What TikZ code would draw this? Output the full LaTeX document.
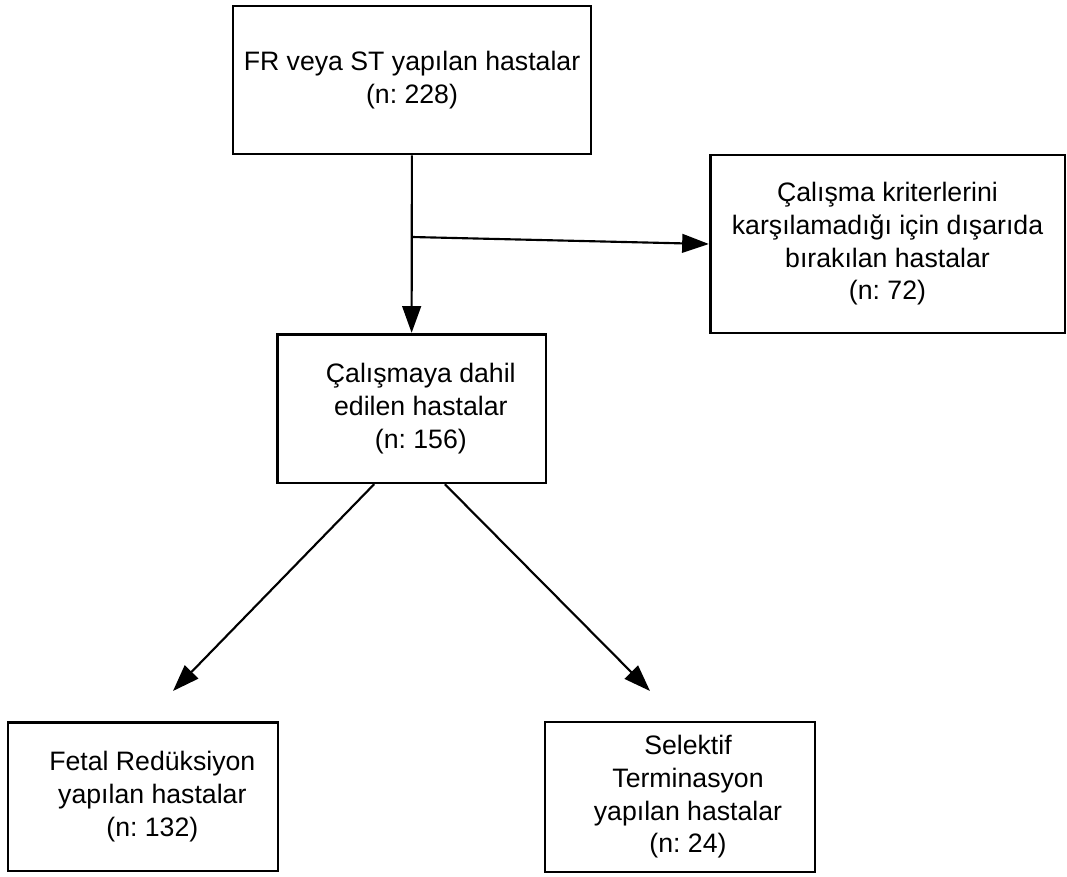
\documentclass[tikz,border=0pt]{standalone}
\usepackage{fontspec}
\setmainfont{Liberation Sans}
\usetikzlibrary{arrows.meta}
\usetikzlibrary{positioning}
\frenchspacing

\begin{document}
\begin{tikzpicture}[
            x=0.75pt, y=-0.75pt,
            block/.style={rectangle, draw, line width=2pt, align=center, inner sep=0pt,
                font=\fontsize{20}{24.5}\selectfont},
            arr/.style={-{Triangle[length=20pt,width=14pt]}, line width=1.6pt}
        ]
            \useasboundingbox (0,0) rectangle (1067,877);

            % boxes
            \node[block, minimum width=268.5pt, minimum height=111pt] (all) at (412,80) {FR veya ST yapılan hastalar\\(n: 228)};
            \node[block, minimum width=266pt, minimum height=133.5pt] (excl) at (887.5,244) {Çalışma kriterlerini\\karşılamadığı için dışarıda\\bırakılan hastalar\\(n: 72)};
            \node[block, minimum width=201.5pt, minimum height=111.5pt] (incl) at (411.5,408.5) {\hspace*{14pt}Çalışmaya dahil\\\hspace*{14pt}edilen hastalar\\\hspace*{14pt}(n: 156)};
            \node[block, minimum width=202.5pt, minimum height=111.5pt] (fr) at (143,796.5) {\hspace*{14pt}Fetal Redüksiyon\\\hspace*{14pt}yapılan hastalar\\\hspace*{14pt}(n: 132)};
            \node[block, minimum width=202.5pt, minimum height=112.5pt] (st) at (680,797) {\hspace*{12pt}Selektif\\\hspace*{12pt}Terminasyon\\\hspace*{12pt}yapılan hastalar\\\hspace*{12pt}(n: 24)};

            % free ends
            \coordinate (split) at (412,237);
            \coordinate (tipL) at (173,691);
            \coordinate (tipR) at (650,691);

            % arrows
            \draw[arr] (all) -- (incl);
            \draw[arr] (split) -- (excl.west);
            \draw[arr] ([xshift=-28pt]incl.south) -- (tipL);
            \draw[arr] ([xshift=25pt]incl.south) -- (tipR);
        \end{tikzpicture}
\end{document}
